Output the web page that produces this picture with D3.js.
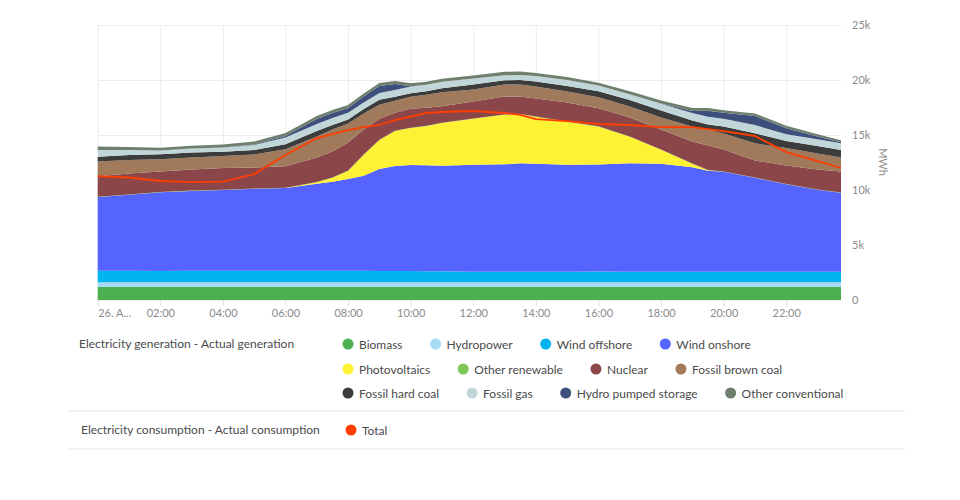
<!DOCTYPE html>
<html>
<head>
<meta charset="UTF-8" />
<title>Electricity generation and consumption</title>
<script src="https://cdn.jsdelivr.net/npm/d3@7"></script>
<style>
    html, body { margin: 0; padding: 0; background: #fff; }
    svg { display: block; }
    text { font-family: Lato, "Noto Sans", sans-serif; }
    .axis path { display: none; }
    .axis text { fill: #8a8a8a; font-size: 11px; }
    .axis line { stroke: #d8dfe8; }
    .grid line { stroke: #ececec; }
    .grid path { display: none; }
    .legend text { fill: #4a4a4a; font-size: 12px; }
</style>
</head>
<body>
<svg id="chart" width="960" height="500"></svg>
<script>
// hours of the day
var hours = [0,1,2,3,4,5,6,7,7.5,8,8.5,9,9.5,10,10.5,11,12,13,13.5,14,15,16,17,18,19,19.5,20,21,22,23,23.75];

// MWh per series, same order as hours
var biomass = [1180,1180,1180,1180,1180,1180,1180,1180,1180,1180,1180,1180,1180,1180,1180,1180,1180,1180,1180,1180,1180,1180,1180,1180,1180,1180,1180,1180,1180,1180,1180];
var hydropower = [430,430,430,430,430,430,430,430,430,430,430,430,430,430,430,430,430,430,430,430,430,430,430,430,430,430,430,430,430,430,430];
var windOffshore = [1055,1040,1030,1040,1050,1060,1060,1050,1050,1040,1040,1030,1030,1020,1010,1000,960,950,960,960,960,970,960,960,960,960,960,960,960,960,960];
var windOnshore = [6700,6910,7150,7270,7340,7450,7520,7910,8090,8360,8640,9270,9545,9640,9640,9590,9730,9770,9860,9820,9730,9730,9860,9820,9500,9180,9090,8545,7950,7450,7180];
var solar = [0,0,0,0,0,0,0,136,364,727,1910,2630,3180,3360,3545,3900,4180,4500,4450,4270,3910,3450,2410,1270,320,45,0,0,0,0,0];
var otherRenewable = [25,25,25,25,25,25,25,25,25,25,25,25,25,25,25,25,25,25,25,25,25,25,25,25,25,25,25,25,25,25,25];
var nuclear = [1870,1910,1870,1910,1980,1910,1940,2230,2360,2545,2270,1910,1640,1730,1640,1500,1545,1640,1590,1640,1730,1640,1730,1820,2000,2230,2000,1550,1680,1820,1910];
var brownCoal = [1340,1230,1110,1090,1090,1180,1545,1910,2000,1730,1450,1270,1090,1090,1180,1270,1090,1090,1090,1090,1000,1000,1000,1090,1360,1450,1450,1550,1590,1450,1270];
var hardCoal = [430,455,455,455,380,410,455,500,410,365,410,455,365,320,320,365,455,390,410,455,500,545,590,640,545,455,640,910,640,680,680];
var fossilGas = [610,455,335,365,390,455,610,635,635,610,610,610,610,610,590,590,545,455,455,500,545,520,520,610,680,700,700,755,610,610,610];
var pumpedStorage = [0,0,0,0,0,30,136,450,450,450,545,640,550,30,0,0,0,0,0,0,0,0,0,30,180,545,545,820,545,270,90];
var otherConventional = [320,280,250,250,270,270,270,270,270,270,270,270,270,270,270,270,270,320,320,270,270,270,270,270,270,250,230,230,230,200,180];
var consumption = [11270,11135,10820,10725,10770,11450,13180,14725,15090,15450,15725,15910,16360,16680,17000,17090,17180,17000,16820,16450,16270,16000,15910,15725,15725,15540,15360,14910,13450,12635,12000];

var seriesNames = ["Biomass","Hydropower","Wind offshore","Wind onshore","Photovoltaics","Other renewable","Nuclear","Fossil brown coal","Fossil hard coal","Fossil gas","Hydro pumped storage","Other conventional"];
var seriesValues = [biomass,hydropower,windOffshore,windOnshore,solar,otherRenewable,nuclear,brownCoal,hardCoal,fossilGas,pumpedStorage,otherConventional];
var seriesColors = ["#4caf50","#a6dcf7","#00b4f0","#5564ff","#fff133","#7fc855","#8b4649","#a07a5a","#3c3c3c","#c1d6d9","#3d4f7d","#6f7f6e"];
var totalColor = "#ff3d00";

var yTicks = [0,5000,10000,15000,20000,25000];
var xTicks = [0,2,4,6,8,10,12,14,16,18,20,22];
var xTickLabels = ["26. A...","02:00","04:00","06:00","08:00","10:00","12:00","14:00","16:00","18:00","20:00","22:00"];

var svg = d3.select("#chart");
var x = d3.scaleLinear().domain([0, 23.75]).range([97.7, 841]);
var y = d3.scaleLinear().domain([0, 25000]).range([300, 25]);

// grid first, the areas sit on top of it
svg.append("g").attr("class", "grid")
    .attr("transform", "translate(0,300)")
    .call(d3.axisBottom(x).tickValues(xTicks).tickSize(-275).tickFormat(""));
svg.append("g").attr("class", "grid")
    .attr("transform", "translate(97.7,0)")
    .call(d3.axisLeft(y).tickValues(yTicks).tickSize(-743.3).tickFormat(""));

// stack
var rows = hours.map(function (h, i) {
    var row = { hour: h };
    seriesNames.forEach(function (n, k) { row[n] = seriesValues[k][i]; });
    return row;
});
var stacked = d3.stack().keys(seriesNames)(rows);
var area = d3.area()
    .x(function (d) { return x(d.data.hour); })
    .y0(function (d) { return y(d[0]); })
    .y1(function (d) { return y(d[1]); });

svg.append("g").selectAll("path")
    .data(stacked)
    .join("path")
    .attr("d", area)
    .attr("fill", function (d, i) { return seriesColors[i]; });

var line = d3.line()
    .x(function (d, i) { return x(hours[i]); })
    .y(function (d) { return y(d); });
svg.append("path")
    .attr("d", line(consumption))
    .attr("fill", "none")
    .attr("stroke", totalColor)
    .attr("stroke-width", 1.8);

// axes
var xAxis = svg.append("g").attr("class", "axis")
    .attr("transform", "translate(0,300)")
    .call(d3.axisBottom(x).tickValues(xTicks).tickSize(6).tickPadding(3)
        .tickFormat(function (d, i) { return xTickLabels[i]; }));
xAxis.selectAll("text").filter(function (d) { return d === 0; }).attr("text-anchor", "start");

svg.append("g").attr("class", "axis")
    .attr("transform", "translate(841,0)")
    .call(d3.axisRight(y).tickValues(yTicks).tickSize(0).tickPadding(11)
        .tickFormat(function (d) { return d === 0 ? "0" : (d / 1000) + "k"; }));

svg.append("text")
    .attr("transform", "translate(879,162) rotate(90)")
    .attr("text-anchor", "middle")
    .attr("fill", "#8a8a8a")
    .style("font-size", "11px")
    .text("MWh");

// legend, rows flow from the measured text width
var legend = svg.append("g").attr("class", "legend");
var legendRows = [
    { y: 344, x: 348, items: [0, 1, 2, 3] },
    { y: 369, x: 348, items: [4, 5, 6, 7] },
    { y: 393, x: 348, items: [8, 9, 10, 11] }
];
legendRows.forEach(function (r) {
    var cx = r.x;
    r.items.forEach(function (k) {
        legend.append("circle").attr("cx", cx).attr("cy", r.y).attr("r", 5.5).attr("fill", seriesColors[k]);
        var t = legend.append("text").attr("x", cx + 11).attr("y", r.y + 4.5).text(seriesNames[k]);
        cx += 11 + t.node().getComputedTextLength() + 33;
    });
});
legend.append("circle").attr("cx", 351).attr("cy", 430).attr("r", 5.5).attr("fill", totalColor);
legend.append("text").attr("x", 362).attr("y", 434.5).text("Total");
legend.append("text").attr("x", 79).attr("y", 347.5).text("Electricity generation - Actual generation");
legend.append("text").attr("x", 81).attr("y", 434).text("Electricity consumption - Actual consumption");

svg.selectAll(".rule")
    .data([411, 449])
    .join("line")
    .attr("x1", 68).attr("x2", 905)
    .attr("y1", function (d) { return d; }).attr("y2", function (d) { return d; })
    .attr("stroke", "#e6e6e6");
</script>
</body>
</html>
